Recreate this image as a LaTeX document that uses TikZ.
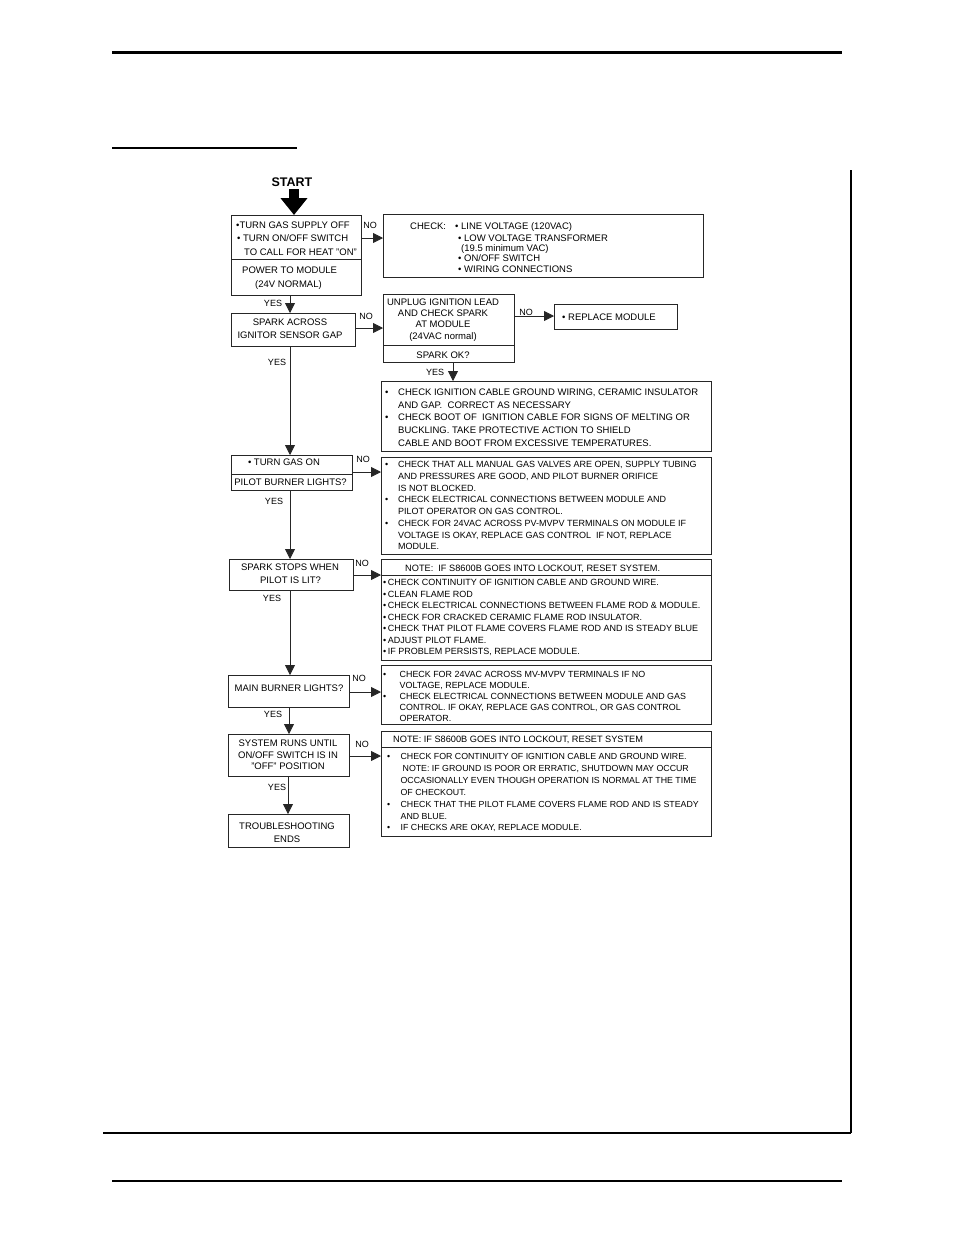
\documentclass[tikz,border=0pt]{standalone}
\usepackage{fontspec}
\setmainfont{Liberation Sans}
\usetikzlibrary{arrows.meta}
\newcommand{\bl}[1][13pt]{\makebox[#1][l]{•}}
\newcommand{\ind}[1][13pt]{\hspace*{#1}}
\begin{document}
\begin{tikzpicture}[x=1pt,y=-1pt,
  box/.style={draw=black!85, line width=0.8pt, inner sep=0pt, anchor=north west, rectangle},
  div/.style={draw=black!85, line width=0.8pt},
  txt/.style={inner sep=0pt, anchor=base west, font=\fontsize{9.5}{12}\selectfont},
  ctxt/.style={txt, anchor=base},
  lbl/.style={inner sep=0pt, font=\fontsize{9}{10}\selectfont},
  arr/.style={draw=black!85, line width=0.8pt, -{Triangle[length=10pt,width=10pt]}},
  pageline/.style={draw=black, line width=#1},
  bigarrow/.style={draw=black, line width=10pt, -{Triangle[length=17pt,width=26pt]}}]
\fill[white] (0,0) rectangle (954,1235);
\useasboundingbox (0,0) rectangle (954,1235);
% page rules
\draw[pageline=3pt] (112,52) -- (842,52);
\draw[pageline=1.3pt] (112,148) -- (297,148);
\draw[pageline=1.3pt] (851,170) -- (851,1133);
\draw[pageline=1.3pt] (103,1133) -- (851,1133);
\draw[pageline=2pt] (112,1181) -- (842,1181);

% boxes
\node[box, minimum width=130pt, minimum height=80pt] (A) at (231,215) {};
\node[box, minimum width=320pt, minimum height=63pt] (CHK) at (383,214) {};
\node[box, minimum width=124pt, minimum height=33pt] (B) at (231,313) {};
\node[box, minimum width=131pt, minimum height=68pt] (C) at (383,294) {};
\node[box, minimum width=123pt, minimum height=25pt] (D) at (554,304) {};
\node[box, minimum width=330pt, minimum height=70pt] (E) at (381,381) {};
\node[box, minimum width=121pt, minimum height=35pt] (F) at (231,455) {};
\node[box, minimum width=330pt, minimum height=97pt] (G) at (381,457) {};
\node[box, minimum width=124pt, minimum height=31pt] (H) at (229,559) {};
\node[box, minimum width=330pt, minimum height=101pt] (I) at (381,559) {};
\node[box, minimum width=121pt, minimum height=32pt] (J) at (228,675) {};
\node[box, minimum width=330pt, minimum height=59pt] (K) at (381,665) {};
\node[box, minimum width=121pt, minimum height=42pt] (L) at (228,734) {};
\node[box, minimum width=121pt, minimum height=33pt] (M) at (228,814) {};
\node[box, minimum width=330pt, minimum height=105pt] (N) at (381,731) {};

% dividers
\coordinate (dA) at (0,259);
\coordinate (dC) at (0,345);
\coordinate (dF) at (0,474);
\coordinate (dI) at (0,575);
\coordinate (dN) at (0,747);
\draw[div] (A.west |- dA) -- (A.east |- dA);
\draw[div] (C.west |- dC) -- (C.east |- dC);
\draw[div] (F.west |- dF) -- (F.east |- dF);
\draw[div] (I.west |- dI) -- (I.east |- dI);
\draw[div] (N.west |- dN) -- (N.east |- dN);

% START
\node[inner sep=0pt, font=\bfseries\fontsize{12.5}{14}\selectfont] (start) at (292,182) {START};
\coordinate (s0) at (294,189);
\draw[bigarrow] (s0) -- (s0 |- A.north);

% texts box A
\node[txt] (a1) at (236,228.5) {•TURN GAS SUPPLY OFF};
\node[txt] (a2) at (237,241.5) {• TURN ON/OFF SWITCH};
\node[txt] (a3) at (244,255.5) {TO CALL FOR HEAT "ON"};
\node[txt] (a4) at (242,273.5) {POWER TO MODULE};
\node[txt] (a5) at (255,287) {(24V NORMAL)};

% CHECK box
\node[txt] (c0) at (410,229.5) {CHECK:};
\node[txt] (c1) at (455,229.5) {• LINE VOLTAGE (120VAC)};
\node[txt] (c2) at (458,241.5) {• LOW VOLTAGE TRANSFORMER};
\node[txt] (c3) at (461,251.5) {(19.5 minimum VAC)};
\node[txt] (c4) at (458,261.5) {• ON/OFF SWITCH};
\node[txt] (c5) at (458,272.5) {• WIRING CONNECTIONS};

% box B
\node[ctxt] (b1) at (290,325) {\parbox[t]{122pt}{\centering\fontsize{9.5}{13}\selectfont SPARK ACROSS\\IGNITOR SENSOR GAP}};

% box C
\node[ctxt] (cc1) at (443,305.5) {\parbox[t]{130pt}{\centering\fontsize{9.5}{11.2}\selectfont UNPLUG IGNITION LEAD\\AND CHECK SPARK\\AT MODULE\\(24VAC normal)}};
\node[ctxt] (cc2) at (443,358.5) {SPARK OK?};

% box D
\node[txt] (d1) at (562,320.5) {• REPLACE MODULE};

% box E
\node[txt] (e1) at (385,395.5) {\parbox[t]{400pt}{\raggedright\fontsize{9.5}{12.7}\selectfont
\bl CHECK IGNITION CABLE GROUND WIRING, CERAMIC INSULATOR\\
\ind AND GAP.\ \ CORRECT AS NECESSARY\\
\bl CHECK BOOT OF\ \ IGNITION CABLE FOR SIGNS OF MELTING OR\\
\ind BUCKLING. TAKE PROTECTIVE ACTION TO SHIELD\\
\ind CABLE AND BOOT FROM EXCESSIVE TEMPERATURES.}};

% box F
\node[ctxt] (f1) at (284,465.5) {• TURN GAS ON};
\node[ctxt] (f2) at (290.5,485.5) {PILOT BURNER LIGHTS?};

% box G
\node[txt] (g1) at (385,467.5) {\parbox[t]{400pt}{\raggedright\fontsize{9}{11.75}\selectfont
\bl CHECK THAT ALL MANUAL GAS VALVES ARE OPEN, SUPPLY TUBING\\
\ind AND PRESSURES ARE GOOD, AND PILOT BURNER ORIFICE\\
\ind IS NOT BLOCKED.\\
\bl CHECK ELECTRICAL CONNECTIONS BETWEEN MODULE AND\\
\ind PILOT OPERATOR ON GAS CONTROL.\\
\bl CHECK FOR 24VAC ACROSS PV-MVPV TERMINALS ON MODULE IF\\
\ind VOLTAGE IS OKAY, REPLACE GAS CONTROL\ \ IF NOT, REPLACE\\
\ind MODULE.}};

% box H
\node[ctxt] (h1) at (290,570.5) {SPARK STOPS WHEN};
\node[ctxt] (h2) at (290.5,583.5) {PILOT IS LIT?};

% box I
\node[txt, font=\fontsize{9.2}{12}\selectfont] (i0) at (405,571.5) {NOTE:\ \ IF S8600B GOES INTO LOCKOUT, RESET SYSTEM.};
\node[txt] (i1) at (383,585.5) {\parbox[t]{400pt}{\raggedright\fontsize{9}{11.5}\selectfont
•\,CHECK CONTINUITY OF IGNITION CABLE AND GROUND WIRE.\\
•\,CLEAN FLAME ROD\\
•\,CHECK ELECTRICAL CONNECTIONS BETWEEN FLAME ROD \& MODULE.\\
•\,CHECK FOR CRACKED CERAMIC FLAME ROD INSULATOR.\\
•\,CHECK THAT PILOT FLAME COVERS FLAME ROD AND IS STEADY BLUE\\
•\,ADJUST PILOT FLAME.\\
•\,IF PROBLEM PERSISTS, REPLACE MODULE.}};

% box J
\node[ctxt] (j1) at (289,691.5) {MAIN BURNER LIGHTS?};

% box K
\node[txt] (k1) at (383,677.5) {\parbox[t]{400pt}{\raggedright\fontsize{8.9}{11}\selectfont
\bl[14pt] CHECK FOR 24VAC ACROSS MV-MVPV TERMINALS IF NO\\
\ind[14pt] VOLTAGE, REPLACE MODULE.\\
\bl[14pt] CHECK ELECTRICAL CONNECTIONS BETWEEN MODULE AND GAS\\
\ind[14pt] CONTROL. IF OKAY, REPLACE GAS CONTROL, OR GAS CONTROL\\
\ind[14pt] OPERATOR.}};

% box L
\node[ctxt] (l1) at (288,746.5) {\parbox[t]{119pt}{\centering\fontsize{9.5}{11.5}\selectfont SYSTEM RUNS UNTIL\\ON/OFF SWITCH IS IN\\"OFF" POSITION}};

% box M
\node[ctxt] (m1) at (287,829.5) {\parbox[t]{119pt}{\centering\fontsize{9.5}{13}\selectfont TROUBLESHOOTING\\ENDS}};

% box N
\node[txt, font=\fontsize{9.2}{12}\selectfont] (n0) at (393,742) {NOTE: IF S8600B GOES INTO LOCKOUT, RESET SYSTEM};
\node[txt] (n1) at (387,759.5) {\parbox[t]{400pt}{\raggedright\fontsize{8.8}{11.9}\selectfont
\bl[11pt] CHECK FOR CONTINUITY OF IGNITION CABLE AND GROUND WIRE.\\
\ind[13pt] NOTE: IF GROUND IS POOR OR ERRATIC, SHUTDOWN MAY OCCUR\\
\ind[11pt] OCCASIONALLY EVEN THOUGH OPERATION IS NORMAL AT THE TIME\\
\ind[11pt] OF CHECKOUT.\\
\bl[11pt] CHECK THAT THE PILOT FLAME COVERS FLAME ROD AND IS STEADY\\
\ind[11pt] AND BLUE.\\
\bl[11pt] IF CHECKS ARE OKAY, REPLACE MODULE.}};

% connectors
\coordinate (x290) at (290,0);
\coordinate (x289) at (289,0);
\coordinate (x288) at (288,0);
\coordinate (x453) at (453,0);
\coordinate (yA) at (0,238);
\coordinate (yB) at (0,328);
\coordinate (yC) at (0,316);
\coordinate (yF) at (0,472);
\coordinate (yH) at (0,575);
\coordinate (yJ) at (0,692);
\coordinate (yL) at (0,756);

\draw[arr] (A.east |- yA) -- (CHK.west |- yA);
\draw[arr] (A.south -| x290) -- (B.north -| x290);
\draw[arr] (B.east |- yB) -- (C.west |- yB);
\draw[arr] (C.east |- yC) -- (D.west |- yC);
\draw[arr] (C.south -| x453) -- (E.north -| x453);
\draw[arr] (B.south -| x290) -- (F.north -| x290);
\draw[arr] (F.east |- yF) -- (G.west |- yF);
\draw[arr] (F.south -| x290) -- (H.north -| x290);
\draw[arr] (H.east |- yH) -- (I.west |- yH);
\draw[arr] (H.south -| x290) -- (J.north -| x290);
\draw[arr] (J.east |- yJ) -- (K.west |- yJ);
\draw[arr] (J.south -| x289) -- (L.north -| x289);
\draw[arr] (L.east |- yL) -- (N.west |- yL);
\draw[arr] (L.south -| x288) -- (M.north -| x288);

% labels
\node[lbl] (lab1) at (370,225) {NO};
\node[lbl] (lab2) at (273,303) {YES};
\node[lbl] (lab3) at (366,316) {NO};
\node[lbl] (lab4) at (526,312) {NO};
\node[lbl] (lab5) at (435,372) {YES};
\node[lbl] (lab6) at (277,362) {YES};
\node[lbl] (lab7) at (363,459) {NO};
\node[lbl] (lab8) at (274,501) {YES};
\node[lbl] (lab9) at (362,563) {NO};
\node[lbl] (lab10) at (272,598) {YES};
\node[lbl] (lab11) at (359,678) {NO};
\node[lbl] (lab12) at (273,714) {YES};
\node[lbl] (lab13) at (362,744) {NO};
\node[lbl] (lab14) at (277,787) {YES};
\end{tikzpicture}
\end{document}
